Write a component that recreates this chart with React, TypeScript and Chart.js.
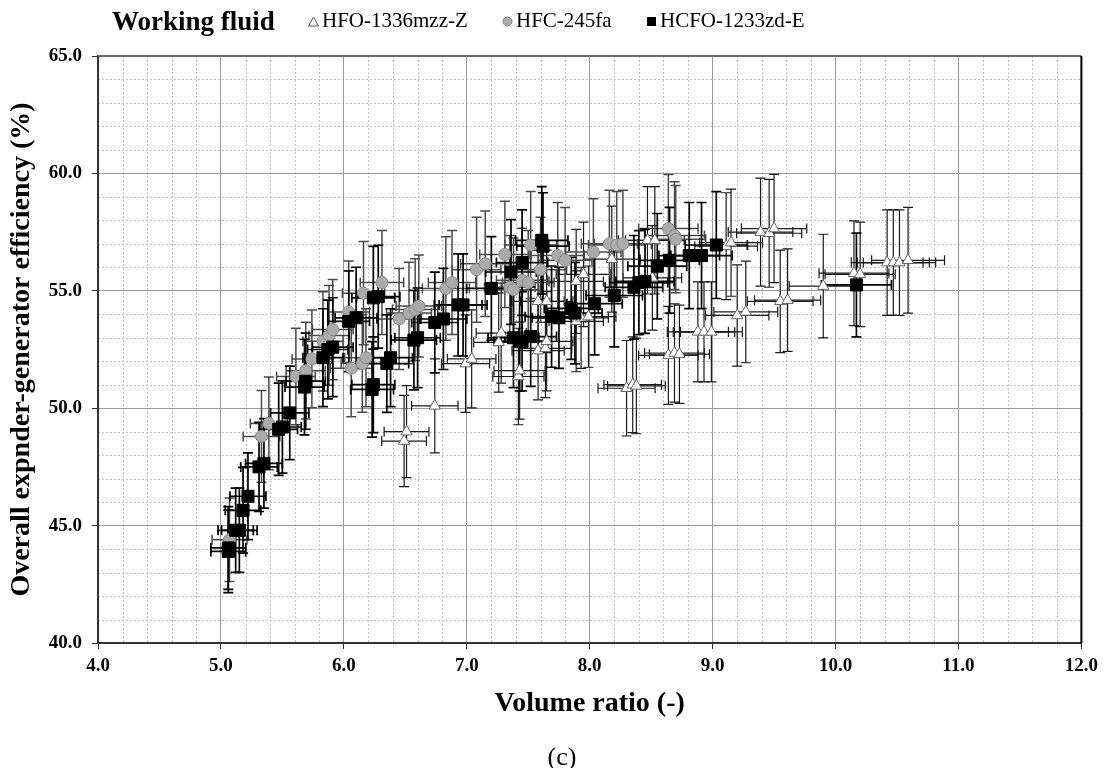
import React, { useEffect, useRef } from "react";
import { Chart, registerables } from "chart.js";

Chart.register(...registerables);

const SERIF = "'Liberation Serif', 'Times New Roman', Times, serif";

// ---- Data ----
const seriesNames = ["HFO-1336mzz-Z", "HFC-245fa", "HCFO-1233zd-E"];

// HFO-1336mzz-Z (open triangles)
const hfoX = [6.49, 6.51, 6.74, 6.99, 7.04, 7.26, 7.28, 7.42, 7.43, 7.58, 7.64, 7.65, 7.58, 7.65, 7.89, 7.93, 7.99, 7.89, 7.95, 8.18, 8.30, 8.35, 8.38, 8.47, 8.53, 8.51, 8.64, 8.69, 8.73, 8.88, 8.93, 8.99, 9.11, 9.15, 9.20, 9.27, 9.39, 9.46, 9.50, 9.55, 9.61, 9.90, 10.15, 10.20, 10.42, 10.47, 10.52, 10.59];
const hfoY = [48.6, 49.0, 50.1, 51.9, 52.1, 52.8, 53.2, 51.35, 51.6, 52.45, 52.55, 52.85, 54.55, 54.55, 53.7, 53.85, 53.9, 55.4, 55.7, 56.35, 50.85, 51.0, 50.95, 57.15, 57.15, 55.55, 52.25, 52.35, 52.3, 53.25, 53.25, 53.25, 56.9, 57.05, 53.95, 54.1, 57.5, 57.45, 57.65, 54.55, 54.6, 55.2, 55.75, 55.7, 56.2, 56.2, 56.2, 56.3];

// HFC-245fa (grey circles)
const hfcX = [5.07, 5.33, 5.39, 5.61, 5.69, 5.74, 5.83, 5.88, 5.91, 6.04, 6.06, 6.15, 6.18, 6.16, 6.31, 6.45, 6.53, 6.58, 6.61, 6.83, 6.88, 7.08, 7.15, 7.31, 7.35, 7.38, 7.45, 7.50, 7.52, 7.60, 7.74, 7.80, 8.03, 8.16, 8.22, 8.27, 8.64, 8.69, 8.70];
const hfcY = [44.4, 48.8, 49.35, 51.35, 51.6, 52.1, 52.85, 53.1, 53.35, 54.1, 51.7, 51.9, 52.15, 54.9, 55.35, 53.8, 54.05, 54.2, 54.35, 55.1, 55.35, 55.9, 56.15, 56.55, 55.15, 55.05, 55.45, 55.35, 56.95, 55.9, 56.5, 56.3, 56.65, 57.0, 56.95, 57.0, 57.65, 57.35, 57.2];

// HCFO-1233zd-E (black squares)
const hcfoX = [5.06, 5.06, 5.12, 5.15, 5.18, 5.22, 5.31, 5.35, 5.47, 5.50, 5.56, 5.68, 5.69, 5.83, 5.87, 5.91, 6.04, 6.10, 6.23, 6.24, 6.24, 6.28, 6.35, 6.38, 6.57, 6.60, 6.74, 6.81, 6.93, 6.97, 7.20, 7.36, 7.38, 7.43, 7.45, 7.45, 7.52, 7.61, 7.62, 7.69, 7.75, 7.85, 7.88, 8.04, 8.20, 8.36, 8.40, 8.45, 8.55, 8.65, 8.81, 8.91, 9.03, 10.17];
const hcfoY = [44.05, 43.9, 44.8, 44.8, 45.65, 46.25, 47.5, 47.65, 49.1, 49.2, 49.8, 50.9, 51.15, 52.15, 52.5, 52.6, 53.7, 53.85, 50.8, 51.0, 54.7, 54.75, 51.9, 52.15, 52.9, 53.0, 53.65, 53.8, 54.4, 54.4, 55.1, 55.8, 53.0, 52.85, 56.2, 52.85, 53.05, 57.15, 56.9, 53.9, 53.85, 54.25, 54.05, 54.45, 54.8, 55.15, 55.35, 55.4, 56.05, 56.3, 56.5, 56.5, 56.95, 55.25];

// relative measurement uncertainty (fraction of value)
const relErrX = 0.028;
const relErrY = 0.04;

const xMin = 4, xMax = 12, xStep = 1, xMinorStep = 0.2;
const yMin = 40, yMax = 65, yStep = 5, yMinorStep = 1;

const xTitle = "Volume ratio (-)";
const yTitle = "Overall expnder-generator efficiency (%)";
const legendTitle = "Working fluid";
const caption = "(c)";

const zip = (xs: number[], ys: number[]) => xs.map((x, i) => ({ x, y: ys[i] }));

const gridPlugin = {
  id: "minorGridAndFrame",
  beforeDraw(chart: any) {
    const { ctx, chartArea: a, scales } = chart;
    const xs = scales.x, ys = scales.y;
    ctx.save();
    ctx.strokeStyle = "#c4c4c4";
    ctx.lineWidth = 1;
    ctx.setLineDash([2, 2]);
    for (let v = xMin; v <= xMax + 1e-9; v += xMinorStep) {
      const r = Math.round(v * 10) / 10;
      if (Math.abs(r - Math.round(r)) < 1e-6) continue;
      const px = Math.round(xs.getPixelForValue(r)) + 0.5;
      ctx.beginPath();
      ctx.moveTo(px, a.top);
      ctx.lineTo(px, a.bottom);
      ctx.stroke();
    }
    for (let v = yMin; v <= yMax; v += yMinorStep) {
      if (v % yStep === 0) continue;
      const py = Math.round(ys.getPixelForValue(v)) + 0.5;
      ctx.beginPath();
      ctx.moveTo(a.left, py);
      ctx.lineTo(a.right, py);
      ctx.stroke();
    }
    ctx.restore();
  },
  beforeDatasetsDraw(chart: any) {
    const { ctx, chartArea: a, scales } = chart;
    const xs = scales.x, ys = scales.y;
    ctx.save();
    ctx.strokeStyle = "#6a6a6a";
    ctx.lineWidth = 2;
    ctx.beginPath();
    ctx.moveTo(a.left, a.top);
    ctx.lineTo(a.right, a.top);
    ctx.stroke();
    ctx.strokeStyle = "#000";
    ctx.beginPath();
    ctx.moveTo(a.right, a.top);
    ctx.lineTo(a.right, a.bottom);
    ctx.stroke();
    // error bars, drawn in dataset order from back to front
    const dsList = [...chart.data.datasets].sort((p: any, q: any) => q.order - p.order);
    const cap = 5;
    dsList.forEach((ds: any) => {
      ctx.strokeStyle = ds.errColor;
      ctx.lineWidth = ds.errWidth;
      ds.data.forEach((p: any) => {
        const px = xs.getPixelForValue(p.x);
        const py = ys.getPixelForValue(p.y);
        const xl = xs.getPixelForValue(p.x * (1 - relErrX));
        const xr = xs.getPixelForValue(p.x * (1 + relErrX));
        const yt = ys.getPixelForValue(p.y * (1 + relErrY));
        const yb = ys.getPixelForValue(p.y * (1 - relErrY));
        ctx.beginPath();
        ctx.moveTo(px, yt); ctx.lineTo(px, yb);
        ctx.moveTo(px - cap, yt); ctx.lineTo(px + cap, yt);
        ctx.moveTo(px - cap, yb); ctx.lineTo(px + cap, yb);
        ctx.moveTo(xl, py); ctx.lineTo(xr, py);
        ctx.moveTo(xl, py - cap); ctx.lineTo(xl, py + cap);
        ctx.moveTo(xr, py - cap); ctx.lineTo(xr, py + cap);
        ctx.stroke();
      });
    });
    ctx.restore();
  },
};

export default function App() {
  const ref = useRef<HTMLCanvasElement | null>(null);
  useEffect(() => {
    if (!ref.current) return;
    const tickFont = { family: SERIF, size: 19, weight: "bold" as const };
    const titleFont = { family: SERIF, size: 28, weight: "bold" as const, lineHeight: 1 };
    const chart = new Chart(ref.current, {
      type: "scatter",
      data: {
        datasets: [
          {
            label: seriesNames[0],
            data: zip(hfoX, hfoY),
            pointStyle: "triangle",
            pointRadius: 6.5,
            backgroundColor: "#ffffff",
            borderColor: "#666666",
            borderWidth: 1,
            order: 3,
            errColor: "#1a1a1a",
            errWidth: 1.2,
          } as any,
          {
            label: seriesNames[1],
            data: zip(hfcX, hfcY),
            pointStyle: "circle",
            pointRadius: 6,
            backgroundColor: "#ababab",
            borderColor: "#8a8a8a",
            borderWidth: 1,
            order: 2,
            errColor: "#4a4a4a",
            errWidth: 1.5,
          } as any,
          {
            label: seriesNames[2],
            data: zip(hcfoX, hcfoY),
            pointStyle: "rect",
            pointRadius: 8.5,
            backgroundColor: "#000000",
            borderColor: "#000000",
            borderWidth: 1,
            order: 1,
            errColor: "#000000",
            errWidth: 1.7,
          } as any,
        ],
      },
      options: {
        responsive: false,
        animation: false,
        events: [],
        layout: { padding: { left: 0, right: 19, top: 48, bottom: 50 } },
        plugins: { legend: { display: false }, tooltip: { enabled: false } },
        scales: {
          x: {
            type: "linear",
            min: xMin,
            max: xMax,
            ticks: {
              stepSize: xStep,
              callback: (v: any) => Number(v).toFixed(1),
              color: "#000",
              font: tickFont,
              padding: 6,
              maxRotation: 0,
            },
            grid: { color: "#9a9a9a", lineWidth: 1, tickLength: 6, tickColor: "#333" },
            border: { color: "#333", width: 2 },
            title: { display: true, text: xTitle, color: "#000", font: titleFont, padding: { top: 0, bottom: 0 } },
            afterFit: (s: any) => { s.height = 75; },
          },
          y: {
            type: "linear",
            min: yMin,
            max: yMax,
            ticks: {
              stepSize: yStep,
              callback: (v: any) => Number(v).toFixed(1),
              color: "#000",
              font: tickFont,
              padding: 10,
            },
            grid: { color: "#9a9a9a", lineWidth: 1, tickLength: 6, tickColor: "#333" },
            border: { color: "#333", width: 2 },
            title: { display: true, text: yTitle, color: "#000", font: titleFont, padding: { top: 0, bottom: 0 } },
            afterFit: (s: any) => { s.width = 90; },
          },
        },
      } as any,
      plugins: [gridPlugin],
    });
    return () => chart.destroy();
  }, []);

  const legendText: React.CSSProperties = {
    position: "absolute",
    top: 0,
    fontFamily: SERIF,
    fontSize: 21,
    lineHeight: "24px",
    color: "#000",
    whiteSpace: "nowrap",
  };

  return (
    <div style={{ position: "relative", width: 1096, height: 760, overflow: "hidden" }}>
      <canvas ref={ref} width={1096} height={760} style={{ position: "absolute", left: 0, top: 0 }} />
      <div style={{ ...legendText, left: 104, top: -2, fontSize: 27, lineHeight: "30px", fontWeight: "bold" }}>{legendTitle}</div>
      <svg style={{ position: "absolute", left: 300, top: 8 }} width={11} height={11}>
        <polygon points="5.5,1 10.5,10 0.5,10" fill="#fff" stroke="#555" strokeWidth={1} />
      </svg>
      <div style={{ ...legendText, left: 314 }}>{seriesNames[0]}</div>
      <svg style={{ position: "absolute", left: 494, top: 8 }} width={11} height={11}>
        <circle cx={5.5} cy={5.5} r={4.5} fill="#ababab" stroke="#8a8a8a" strokeWidth={1} />
      </svg>
      <div style={{ ...legendText, left: 508 }}>{seriesNames[1]}</div>
      <svg style={{ position: "absolute", left: 638, top: 8 }} width={11} height={11}>
        <rect x={1} y={1} width={9} height={9} fill="#000" />
      </svg>
      <div style={{ ...legendText, left: 652 }}>{seriesNames[2]}</div>
      <div style={{ position: "absolute", left: 504, width: 100, top: 734, textAlign: "center", fontFamily: SERIF, fontSize: 26, lineHeight: "30px", color: "#000" }}>{caption}</div>
    </div>
  );
}
